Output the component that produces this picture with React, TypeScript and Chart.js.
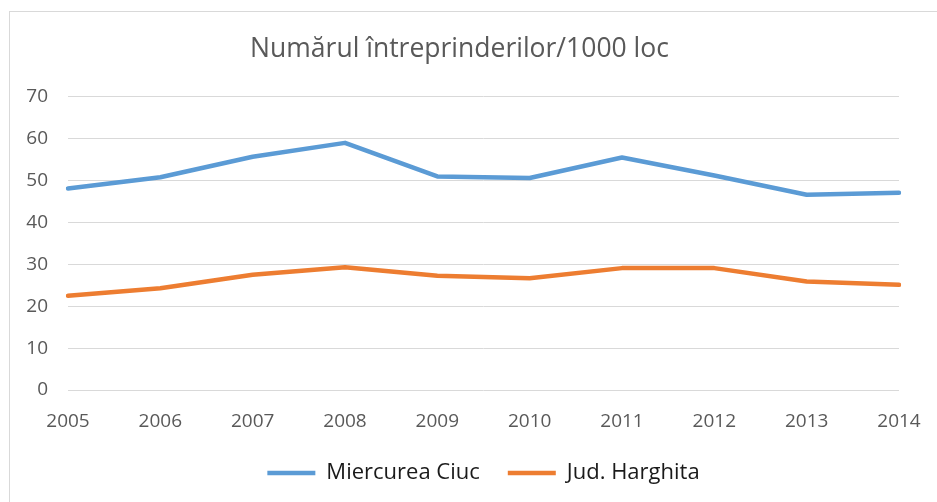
import React, { useEffect, useRef } from 'react';
import { Chart, registerables } from 'chart.js';

Chart.register(...registerables);

const chartTitle = 'Numărul întreprinderilor/1000 loc';
const years = ['2005', '2006', '2007', '2008', '2009', '2010', '2011', '2012', '2013', '2014'];
const miercureaCiuc = [48.1, 50.8, 55.7, 59.0, 51.0, 50.6, 55.5, 51.2, 46.6, 47.1];
const judHarghita = [22.5, 24.3, 27.5, 29.3, 27.3, 26.7, 29.1, 29.1, 25.9, 25.1];
const seriesNames = ['Miercurea Ciuc', 'Jud. Harghita'];
const yMin = 0;
const yMax = 70;
const yStep = 10;

export default function App() {
  const ref = useRef<HTMLCanvasElement>(null);

  useEffect(() => {
    document.documentElement.style.overflow = 'hidden';
    document.body.style.overflow = 'hidden';
    const chart = new Chart(ref.current!, {
      type: 'line',
      data: {
        labels: years,
        datasets: [
          {
            label: seriesNames[0],
            data: miercureaCiuc,
            borderColor: '#5B9BD5',
            backgroundColor: '#5B9BD5',
            borderWidth: 4.5,
            pointRadius: 0,
            tension: 0,
            borderCapStyle: 'round',
            borderJoinStyle: 'round',
          },
          {
            label: seriesNames[1],
            data: judHarghita,
            borderColor: '#ED7D31',
            backgroundColor: '#ED7D31',
            borderWidth: 4.5,
            pointRadius: 0,
            tension: 0,
            borderCapStyle: 'round',
            borderJoinStyle: 'round',
          },
        ],
      },
      options: {
        responsive: false,
        animation: false,
        devicePixelRatio: 1,
        layout: { padding: { left: 10, right: 38, top: 0, bottom: 0 } },
        plugins: {
          title: {
            display: true,
            text: chartTitle,
            color: '#595959',
            font: { family: 'Open Sans', size: 26.5, weight: 'normal' },
            padding: { top: 22, bottom: 31 },
          },
          legend: {
            position: 'bottom',
            fullSize: false,
            labels: {
              usePointStyle: true,
              pointStyle: 'line',
              pointStyleWidth: 48,
              padding: 28,
              color: '#1a1a1a',
              font: { family: 'Open Sans', size: 22 },
            },
          },
          tooltip: { enabled: false },
        },
        scales: {
          x: {
            offset: false,
            grid: { display: false },
            border: { display: false },
            ticks: {
              color: '#595959',
              font: { family: 'Open Sans', size: 19 },
              padding: 12,
              maxRotation: 0,
              autoSkip: false,
            },
            afterFit: (s: any) => {
              s.height = 44;
            },
          },
          y: {
            min: yMin,
            max: yMax,
            grid: { color: '#d9d9d9', lineWidth: 1, drawTicks: false },
            border: { display: false },
            ticks: {
              stepSize: yStep,
              color: '#595959',
              font: { family: 'Open Sans', size: 19 },
              padding: 20,
            },
            afterFit: (s: any) => {
              s.width = 48;
            },
          },
        },
      },
    });
    return () => chart.destroy();
  }, []);

  return (
    <div
      style={{
        position: 'absolute',
        left: 9,
        top: 11,
        width: 1000,
        height: 600,
        border: '1px solid #d9d9d9',
        background: '#fff',
      }}
    >
      <canvas ref={ref} width={927} height={482} style={{ display: 'block', width: 927, height: 482 }} />
    </div>
  );
}
